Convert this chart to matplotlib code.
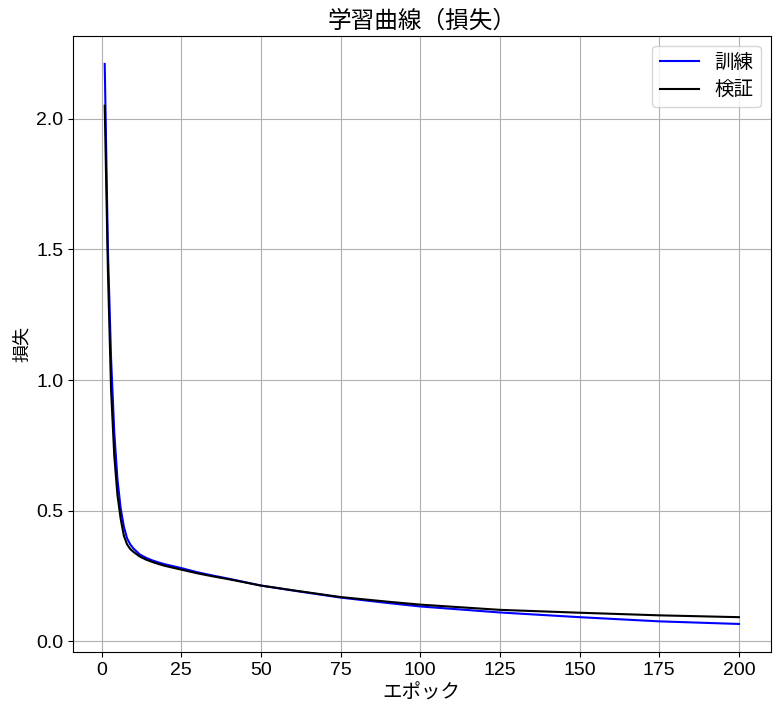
#!/usr/bin/env python3

import matplotlib
matplotlib.use("Agg")
import matplotlib.pyplot as plt

# Learning curve (loss).
plt.rcParams['font.family'] = ['Liberation Sans', 'Noto Sans CJK JP', 'DejaVu Sans']

Epochs = [1, 2, 3, 4, 5, 6, 7, 8, 9, 10, 12, 14, 16, 18, 20, 25, 30, 35, 40,
          50, 60, 75, 90, 100, 125, 150, 175, 200]
TrainLoss = [2.21, 1.50, 1.08, 0.80, 0.62, 0.51, 0.44, 0.395, 0.372, 0.356,
             0.333, 0.320, 0.310, 0.302, 0.295, 0.281, 0.265, 0.252, 0.240,
             0.214, 0.195, 0.168, 0.147, 0.134, 0.111, 0.093, 0.077, 0.067]
ValLoss = [2.05, 1.42, 0.96, 0.71, 0.56, 0.47, 0.405, 0.372, 0.354, 0.343,
           0.325, 0.313, 0.304, 0.296, 0.289, 0.275, 0.261, 0.249, 0.238,
           0.214, 0.196, 0.170, 0.152, 0.141, 0.121, 0.110, 0.100, 0.093]

Fig = plt.figure(figsize=(7.8, 7.13), dpi=100)
Ax = Fig.add_axes([0.0936, 0.0856, 0.8944, 0.864])
Ax.plot(Epochs, TrainLoss, color="b", label="訓練")
Ax.plot(Epochs, ValLoss, color="k", label="検証")
Ax.set_title("学習曲線（損失）", fontsize=17)
Ax.set_xlabel("エポック", fontsize=14)
Ax.set_ylabel("損失", fontsize=13)
Ax.tick_params(labelsize=14)
Ax.set_xticks([0, 25, 50, 75, 100, 125, 150, 175, 200])
Ax.grid(True)
Ax.legend(fontsize=14)
Fig.savefig("out.png", dpi=100)
